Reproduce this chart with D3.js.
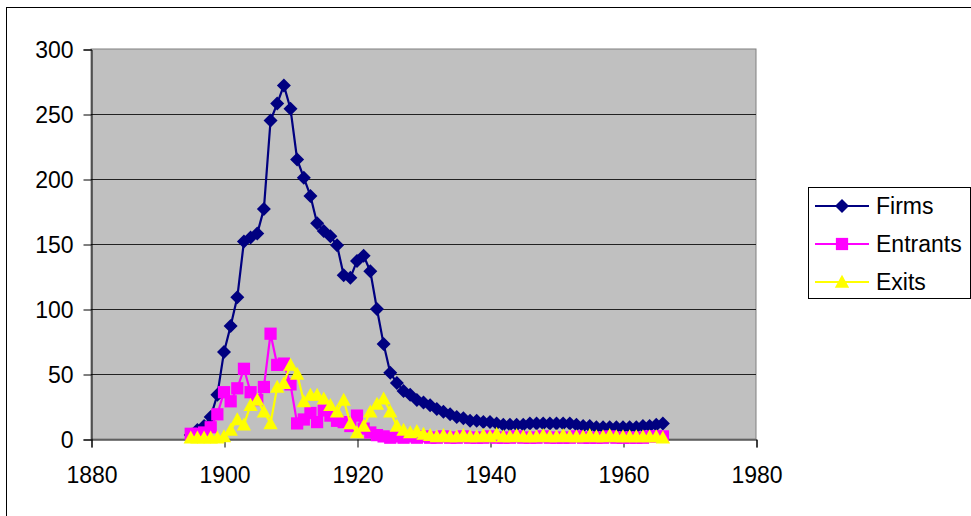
<!DOCTYPE html>
<html>
<head>
<meta charset="utf-8">
<script src="https://cdn.jsdelivr.net/npm/d3@7"></script>
<style>
  body { margin: 0; background: #fff; }
  svg text { font-family: "Liberation Sans", Arial, sans-serif; fill: #000; }
</style>
</head>
<body>
<div id="chart"></div>
<script>
// Data, one value per year from 1895 to 1966
const startYear = 1895;
const firms = [
  3, 7, 10, 17, 34, 67, 87, 109, 152, 155,
  158, 177, 245, 258, 272, 254, 215, 201, 187, 166,
  160, 156, 149, 126, 124, 137, 141, 129, 100, 73,
  51, 43, 37, 34, 30, 28, 26, 23, 21, 19,
  17, 16, 14, 14, 13, 13, 12, 11, 11, 11,
  11, 12, 12, 12, 12, 12, 12, 12, 11, 10,
  10, 9, 9, 9, 9, 9, 9, 9, 10, 10,
  11, 12
];
const entrants = [
  4, 4, 5, 9, 19, 36, 29, 39, 54, 36,
  30, 40, 81, 57, 58, 42, 12, 15, 20, 13,
  22, 18, 14, 13, 10, 18, 8, 5, 3, 2,
  1, 2, 1, 2, 1, 2, 1, 1, 2, 1,
  1, 2, 1, 1, 1, 2, 1, 1, 1, 2,
  1, 1, 1, 2, 1, 1, 1, 1, 2, 1,
  1, 1, 1, 2, 1, 1, 1, 1, 1, 2,
  2, 2
];
const exits = [
  1, 1, 1, 1, 1, 2, 7, 15, 11, 26,
  30, 21, 12, 40, 43, 57, 50, 29, 34, 34,
  31, 26, 21, 30, 12, 5, 10, 21, 27, 31,
  21, 10, 7, 5, 6, 4, 3, 2, 3, 2,
  2, 3, 2, 2, 3, 2, 4, 2, 2, 3,
  2, 2, 2, 3, 2, 2, 3, 2, 2, 2,
  3, 2, 2, 3, 2, 2, 2, 2, 2, 2,
  2, 1
];
const yTicks = [0, 50, 100, 150, 200, 250, 300];
const xTicks = [1880, 1900, 1920, 1940, 1960, 1980];
const seriesNames = ["Firms", "Entrants", "Exits"];
const seriesColors = ["#000080", "#FF00FF", "#FFFF00"];

const width = 971, height = 516;
const plot = { left: 91, right: 756, top: 49, bottom: 439 };

const svg = d3.select("#chart").append("svg")
  .attr("width", width)
  .attr("height", height);

// outer chart frame
svg.append("rect")
  .attr("x", 6.5).attr("y", 7.5)
  .attr("width", width + 10).attr("height", height + 10)
  .attr("fill", "#fff").attr("stroke", "#000").attr("stroke-width", 1);

const x = d3.scaleLinear().domain([1880, 1980]).range([plot.left, plot.right]);
const y = d3.scaleLinear().domain([0, 300]).range([plot.bottom, plot.top]);

// plot area
svg.append("rect")
  .attr("x", plot.left).attr("y", plot.top)
  .attr("width", plot.right - plot.left).attr("height", plot.bottom - plot.top)
  .attr("fill", "#C0C0C0").attr("stroke", "#808080").attr("stroke-width", 1);

// gridlines
svg.append("g")
  .selectAll("line")
  .data(yTicks.filter(d => d > 0 && d < 300))
  .join("line")
  .attr("x1", plot.left).attr("x2", plot.right)
  .attr("y1", d => Math.round(y(d)) + 0.5).attr("y2", d => Math.round(y(d)) + 0.5)
  .attr("stroke", "#222").attr("stroke-width", 1);

// axes
const yAxis = svg.append("g")
  .attr("transform", `translate(${plot.left + 0.5},0.5)`)
  .call(d3.axisLeft(y).tickValues(yTicks).tickSize(8).tickPadding(10).tickFormat(d3.format("d")));
const xAxis = svg.append("g")
  .attr("transform", `translate(0.5,${plot.bottom + 0.5})`)
  .call(d3.axisBottom(x).tickValues(xTicks).tickSize(8).tickPadding(19).tickFormat(d3.format("d")));

[yAxis, xAxis].forEach(a => {
  a.select(".domain").attr("stroke", "#000");
  a.selectAll(".tick line").attr("stroke", "#000");
  a.selectAll("text").style("font-size", "23px").attr("fill", "#000");
});
yAxis.selectAll("text").attr("dy", "0.36em");

// series
const series = [firms, entrants, exits].map((vals, i) => ({
  name: seriesNames[i],
  color: seriesColors[i],
  values: vals.map((v, j) => ({ year: startYear + j, value: v }))
}));

// Excel-like markers: square diamond, square, triangle
const diamond = {
  draw(ctx, size) {
    const r = Math.sqrt(size / 2);
    ctx.moveTo(0, -r); ctx.lineTo(r, 0); ctx.lineTo(0, r); ctx.lineTo(-r, 0); ctx.closePath();
  }
};
const triangle = {
  draw(ctx, size) {
    const w = Math.sqrt(size);
    ctx.moveTo(0, -w * 0.55); ctx.lineTo(w * 0.55, w * 0.45); ctx.lineTo(-w * 0.55, w * 0.45); ctx.closePath();
  }
};
const symbols = [diamond, d3.symbolSquare, triangle];
const symbolSizes = [98, 150, 170];

const line = d3.line()
  .x(d => x(d.year))
  .y(d => y(d.value));

series.forEach((s, i) => {
  const g = svg.append("g");
  g.append("path")
    .datum(s.values)
    .attr("d", line)
    .attr("fill", "none")
    .attr("stroke", s.color)
    .attr("stroke-width", 2.2)
    .attr("stroke-linejoin", "round");
  g.selectAll("path.marker")
    .data(s.values)
    .join("path")
    .attr("class", "marker")
    .attr("transform", d => `translate(${x(d.year)},${y(d.value)})`)
    .attr("d", d3.symbol().type(symbols[i]).size(symbolSizes[i]))
    .attr("fill", s.color);
});

// legend
const legend = svg.append("g");
legend.append("rect")
  .attr("x", 808.5).attr("y", 187.5)
  .attr("width", 162).attr("height", 111)
  .attr("fill", "#fff").attr("stroke", "#000");

const legendRows = [206, 244, 282];
series.forEach((s, i) => {
  const row = legend.append("g").attr("transform", `translate(0,${legendRows[i]})`);
  row.append("line")
    .attr("x1", 815).attr("x2", 869)
    .attr("stroke", s.color).attr("stroke-width", 2.2);
  row.append("path")
    .attr("transform", "translate(842,0)")
    .attr("d", d3.symbol().type(symbols[i]).size(symbolSizes[i]))
    .attr("fill", s.color);
  row.append("text")
    .attr("x", 876).attr("dy", "0.36em")
    .style("font-size", "23px")
    .text(s.name);
});
</script>
</body>
</html>
